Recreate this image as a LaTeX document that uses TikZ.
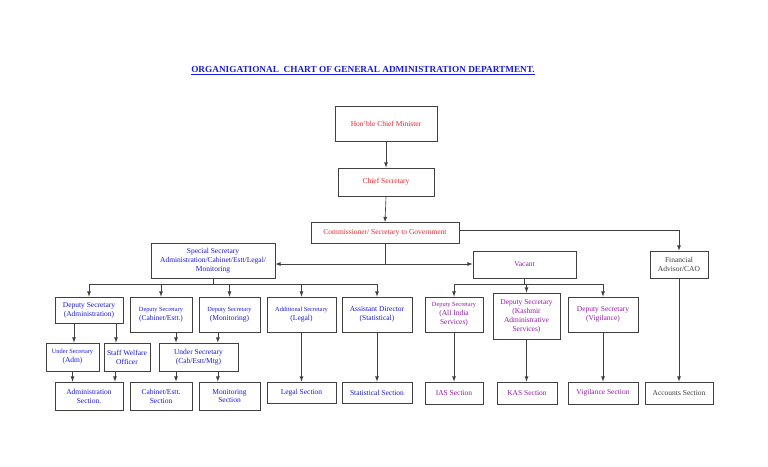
\documentclass[tikz,border=0pt]{standalone}
\usepackage{fontspec}
\setmainfont{Liberation Serif}
\definecolor{gadred}{RGB}{235,35,45}
\definecolor{gadblue}{RGB}{25,25,225}
\definecolor{gadpurple}{RGB}{150,25,170}
\definecolor{gadgray}{RGB}{60,60,60}
\newcommand{\sm}{\fontsize{5.4}{6.6}\selectfont}

\begin{document}
\begin{tikzpicture}[x=0.03cm, y=-0.03cm, >=latex,
    line/.style={black!75, line width=0.55pt},
    box/.style={draw=black!75, line width=0.65pt, fill=white, align=center,
        inner sep=1pt, font=\fontsize{6.4}{7.6}\selectfont},
    wh/.style 2 args={minimum width=#1*0.03cm, minimum height=#2*0.03cm}]
    \useasboundingbox (0,0) rectangle (768,466);

    % Title
    \node[text=gadblue, font=\bfseries\fontsize{7.9}{9}\selectfont] (title) at (363,71)
        {\underline{ORGANIGATIONAL\ \ CHART OF GENERAL ADMINISTRATION DEPARTMENT.}};

    % Top
    \node[box, wh={102}{35}, text=gadred] (cm) at (386,123.5) {Hon’ble Chief Minister};
    \node[box, wh={96}{28}, text=gadred] (cs) at (386,182) {Chief Secretary};
    \node[box, wh={148}{21}, text=gadred] (comm) at (385,233) {Commissioner/ Secretary to Government};
    \node[box, wh={124}{35}, text=gadblue] (spl) at (213,260.5)
        {Special Secretary\\ Administration/Cabinet/Estt/Legal/\\ Monitoring};
    \node[box, wh={103}{27}, text=gadpurple] (vacant) at (524.5,264.5) {Vacant};
    \node[box, wh={58}{27}, text=gadgray] (fa) at (679,264.5) {Financial\\ Advisor/CAO};

    \draw[line, ->] (cm.south) -- (cs.north);
    \draw[line, ->] (cs.south) -- (comm.north);
    \coordinate (cbus) at (385,264);
    \draw[line] (comm.south) -- (cbus);
    \draw[line, ->] (cbus) -- (cbus -| spl.east);
    \draw[line, ->] (cbus) -- (cbus -| vacant.west);
    \draw[line, ->] ([yshift=0.08cm]comm.east) -| (fa.north);

    % Left branch
    \node[box, wh={68}{26}, text=gadblue] (dsadm) at (89,310) {Deputy Secretary\\ (Administration)};
    \node[box, wh={62}{35}, text=gadblue] (dscab) at (161,314.5) {{\sm Deputy Secretary}\\ (Cabinet/Estt.)};
    \node[box, wh={61}{35}, text=gadblue] (dsmon) at (229.5,314.5) {{\sm Deputy Secretary}\\ (Monitoring)};
    \node[box, wh={69}{35}, text=gadblue] (adsleg) at (301.5,314.5) {{\sm Additional Secretary}\\ (Legal)};
    \node[box, wh={70}{35}, text=gadblue] (adstat) at (377,314.5) {Assistant Director\\ (Statistical)};

    \node[box, wh={53}{28}, text=gadblue] (usadm) at (72.5,357) {{\sm Under Secretary}\\ (Adm)};
    \node[box, wh={46}{28}, text=gadblue] (swo) at (127,357) {Staff Welfare\\ Officer};
    \node[box, wh={79}{28}, text=gadblue] (uscab) at (198.5,357) {Under Secretary\\ (Cab/Estt/Mtg)};

    \node[box, wh={68}{28}, text=gadblue] (admsec) at (89,396) {Administration\\ Section.};
    \node[box, wh={62}{28}, text=gadblue] (cabsec) at (161,396) {Cabinet/Estt.\\ Section};
    \node[box, wh={61}{28}, text=gadblue] (monsec) at (229.5,396) {Monitoring\\ Section};
    \node[box, wh={69}{21}, text=gadblue] (legsec) at (301.5,392.5) {Legal Section};
    \node[box, wh={70}{21}, text=gadblue] (statsec) at (377,392.5) {Statistical Section};

    \coordinate (sbus) at (213,284);
    \draw[line] (spl.south) -- (sbus);
    \draw[line] (dsadm.north |- sbus) -- (adstat.north |- sbus);
    \foreach \n in {dsadm,dscab,dsmon,adsleg,adstat}
        \draw[line, ->] (\n.north |- sbus) -- (\n.north);

    \draw[line, ->] ([xshift=-0.45cm]dsadm.south) -- ([xshift=-0.45cm]dsadm.south |- usadm.north);
    \draw[line, ->] ([xshift=0.81cm]dsadm.south) -- ([xshift=0.81cm]dsadm.south |- swo.north);
    \draw[line, ->] (usadm.south) -- (usadm.south |- admsec.north);
    \draw[line, ->] ([xshift=-0.36cm]swo.south) -- ([xshift=-0.36cm]swo.south |- admsec.north);
    \draw[line, ->] ([xshift=0.45cm]dscab.south) -- ([xshift=0.45cm]dscab.south |- uscab.north);
    \draw[line, ->] ([xshift=-0.35cm]dsmon.south) -- ([xshift=-0.35cm]dsmon.south |- uscab.north);
    \draw[line, ->] ([xshift=0.45cm]dscab.south |- uscab.south) -- ([xshift=0.45cm]dscab.south |- cabsec.north);
    \draw[line, ->] ([xshift=-0.35cm]dsmon.south |- uscab.south) -- ([xshift=-0.35cm]dsmon.south |- monsec.north);
    \draw[line, ->] (adsleg.south) -- (legsec.north);
    \draw[line, ->] (adstat.south) -- (statsec.north);

    % Right branch
    \node[box, wh={58}{35}, text=gadpurple] (dsais) at (454,314.5) {{\sm Deputy Secretary}\\ (All India\\ Services)};
    \node[box, wh={67}{46}, text=gadpurple] (dskas) at (526.5,316) {Deputy Secretary\\ (Kashmir\\ Administrative\\ Services)};
    \node[box, wh={70}{35}, text=gadpurple] (dsvig) at (603,314.5) {Deputy Secretary\\ (Vigilance)};

    \node[box, wh={58}{22}, text=gadpurple] (iassec) at (454,393) {IAS Section};
    \node[box, wh={60}{22}, text=gadpurple] (kassec) at (527,393) {KAS Section};
    \node[box, wh={70}{22}, text=gadpurple] (vigsec) at (603,393) {Vigilance Section};
    \node[box, wh={68}{22}, text=gadgray] (accsec) at (679,393) {Accounts Section};

    \coordinate (vbus) at (524.5,284);
    \draw[line] (vacant.south) -- (vbus);
    \draw[line] (dsais.north |- vbus) -- (dsvig.north |- vbus);
    \foreach \n in {dsais,dskas,dsvig}
        \draw[line, ->] (\n.north |- vbus) -- (\n.north);

    \draw[line, ->] (dsais.south) -- (iassec.north);
    \draw[line, ->] (dskas.south) -- (dskas.south |- kassec.north);
    \draw[line, ->] (dsvig.south) -- (vigsec.north);
    \draw[line, ->] (fa.south) -- (accsec.north);
\end{tikzpicture}
\end{document}
